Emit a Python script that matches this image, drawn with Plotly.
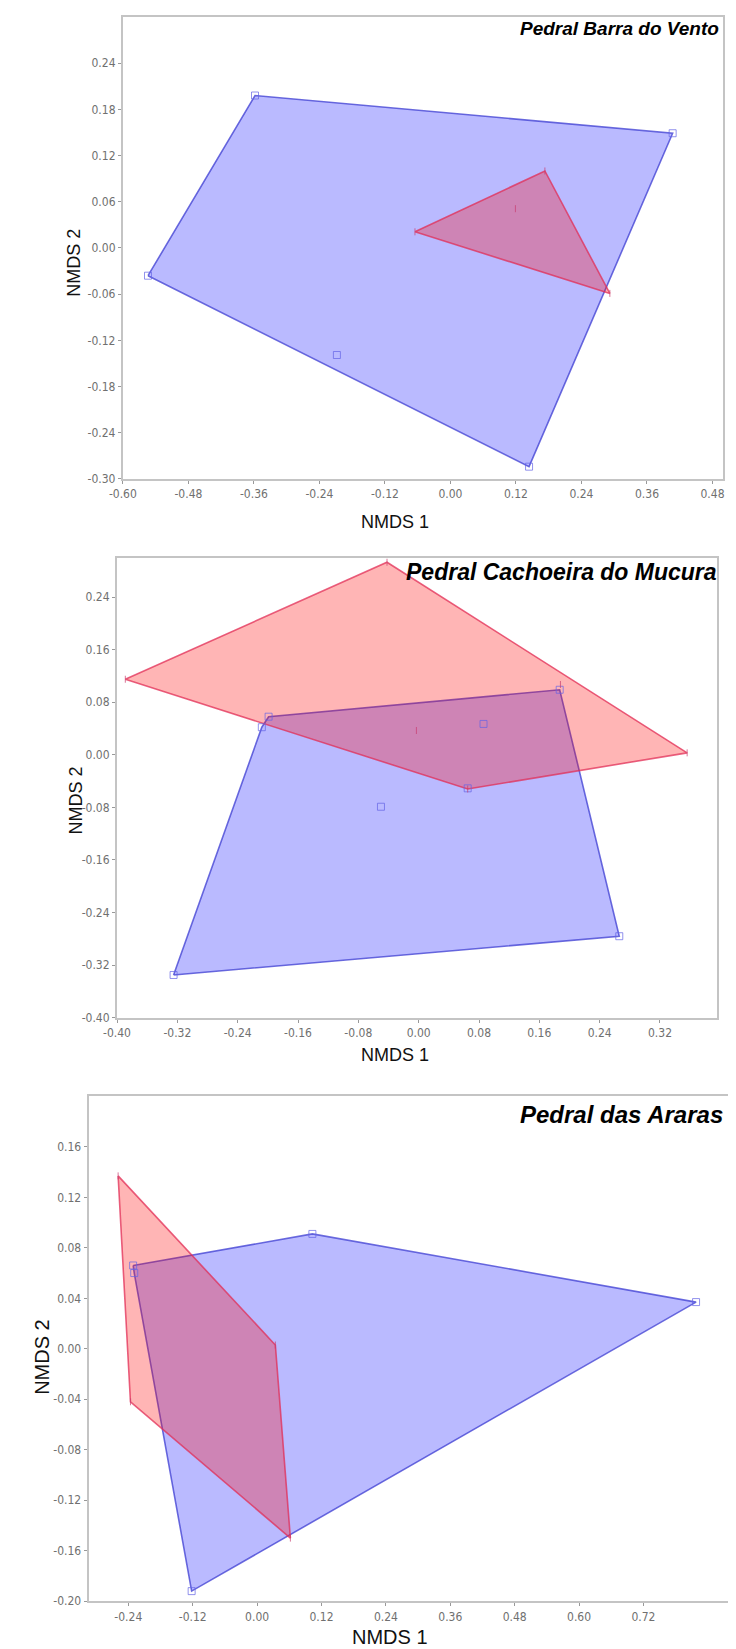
import plotly.graph_objects as go

# ---------------- DATA ----------------
# Panel 1 - Pedral Barra do Vento
p1_title = "Pedral Barra do Vento"
p1_blue_x = [-0.358, 0.407, 0.144, -0.554, -0.208]
p1_blue_y = [0.198, 0.149, -0.284, -0.036, -0.139]
p1_red_x = [-0.065, 0.173, 0.292, 0.119]
p1_red_y = [0.021, 0.100, -0.059, 0.051]
p1_xtickvals = [-0.60, -0.48, -0.36, -0.24, -0.12, 0.00, 0.12, 0.24, 0.36, 0.48]
p1_xticktext = ["-0.60", "-0.48", "-0.36", "-0.24", "-0.12", "0.00", "0.12", "0.24", "0.36", "0.48"]
p1_ytickvals = [-0.30, -0.24, -0.18, -0.12, -0.06, 0.00, 0.06, 0.12, 0.18, 0.24]
p1_yticktext = ["-0.30", "-0.24", "-0.18", "-0.12", "-0.06", "0.00", "0.06", "0.12", "0.18", "0.24"]
p1_xrange = [-0.60, 0.50]
p1_yrange = [-0.30, 0.30]

# Panel 2 - Pedral Cachoeira do Mucura
p2_title = "Pedral Cachoeira do Mucura"
p2_blue_x = [-0.199, -0.208, 0.187, 0.266, -0.325, 0.086, -0.050, 0.065]
p2_blue_y = [0.058, 0.042, 0.099, -0.276, -0.335, 0.047, -0.079, -0.051]
p2_red_x = [-0.042, 0.356, 0.065, -0.389, -0.003, 0.188]
p2_red_y = [0.293, 0.003, -0.052, 0.115, 0.037, 0.107]
p2_xtickvals = [-0.40, -0.32, -0.24, -0.16, -0.08, 0.00, 0.08, 0.16, 0.24, 0.32]
p2_xticktext = ["-0.40", "-0.32", "-0.24", "-0.16", "-0.08", "0.00", "0.08", "0.16", "0.24", "0.32"]
p2_ytickvals = [-0.40, -0.32, -0.24, -0.16, -0.08, 0.00, 0.08, 0.16, 0.24]
p2_yticktext = ["-0.40", "-0.32", "-0.24", "-0.16", "-0.08", "0.00", "0.08", "0.16", "0.24"]
p2_xrange = [-0.40, 0.395]
p2_yrange = [-0.40, 0.30]

# Panel 3 - Pedral das Araras
p3_title = "Pedral das Araras"
p3_blue_x = [-0.229, -0.231, 0.103, 0.818, -0.122]
p3_blue_y = [0.060, 0.066, 0.091, 0.037, -0.192]
p3_red_x = [-0.259, 0.034, 0.062, -0.236]
p3_red_y = [0.137, 0.003, -0.150, -0.042]
p3_xtickvals = [-0.24, -0.12, 0.00, 0.12, 0.24, 0.36, 0.48, 0.60, 0.72]
p3_xticktext = ["-0.24", "-0.12", "0.00", "0.12", "0.24", "0.36", "0.48", "0.60", "0.72"]
p3_ytickvals = [-0.20, -0.16, -0.12, -0.08, -0.04, 0.00, 0.04, 0.08, 0.12, 0.16]
p3_yticktext = ["-0.20", "-0.16", "-0.12", "-0.08", "-0.04", "0.00", "0.04", "0.08", "0.12", "0.16"]
p3_xrange = [-0.314, 0.90]
p3_yrange = [-0.20, 0.20]

x_title = "NMDS 1"
y_title = "NMDS 2"

# ---------------- HELPERS ----------------
W, H = 736, 1649


def hull(xs, ys):
    pts = sorted(set(zip(xs, ys)))
    if len(pts) < 3:
        return pts

    def cross(o, a, b):
        return (a[0] - o[0]) * (b[1] - o[1]) - (a[1] - o[1]) * (b[0] - o[0])

    lower, upper = [], []
    for p in pts:
        while len(lower) >= 2 and cross(lower[-2], lower[-1], p) <= 0:
            lower.pop()
        lower.append(p)
    for p in reversed(pts):
        while len(upper) >= 2 and cross(upper[-2], upper[-1], p) <= 0:
            upper.pop()
        upper.append(p)
    h = lower[:-1] + upper[:-1]
    return h + [h[0]]


BLUE_FILL = "rgba(0,0,255,0.27)"
BLUE_LINE = "rgba(60,60,210,0.75)"
RED_FILL = "rgba(255,0,0,0.29)"
RED_LINE = "rgba(225,45,85,0.75)"

TICK_FONT = dict(family="Liberation Sans Narrow, DejaVu Sans Condensed, Arial Narrow, sans-serif",
                 size=12, color="#707070")

fig = go.Figure()

# tpos: (x, y, anchor) pixel position of the panel title
panels = [
    dict(n=1, box=(103, 9, 716, 473), bx=p1_blue_x, by=p1_blue_y, rx=p1_red_x, ry=p1_red_y,
         xt=(p1_xtickvals, p1_xticktext), yt=(p1_ytickvals, p1_yticktext),
         xr=p1_xrange, yr=p1_yrange, title=p1_title, tsize=19, tpos=(714, 21, "right"),
         xtpos=(381, 516), ytpos=(53, 256), asize=18),
    dict(n=2, box=(97, 552, 709, 1014), bx=p2_blue_x, by=p2_blue_y, rx=p2_red_x, ry=p2_red_y,
         xt=(p2_xtickvals, p2_xticktext), yt=(p2_ytickvals, p2_yticktext),
         xr=p2_xrange, yr=p2_yrange, title=p2_title, tsize=23, tpos=(711, 566, "right"),
         xtpos=(381, 1051), ytpos=(55, 796), asize=18),
    dict(n=3, box=(68, 1093, 733, 1600), bx=p3_blue_x, by=p3_blue_y, rx=p3_red_x, ry=p3_red_y,
         xt=(p3_xtickvals, p3_xticktext), yt=(p3_ytickvals, p3_yticktext),
         xr=p3_xrange, yr=p3_yrange, title=p3_title, tsize=24, tpos=(506, 1111, "left"),
         xtpos=(376, 1636), ytpos=(21, 1355), asize=20),
]

annotations = []
for p in panels:
    n = p["n"]
    xa = "x" if n == 1 else f"x{n}"
    ya = "y" if n == 1 else f"y{n}"
    bh = hull(p["bx"], p["by"])
    rh = hull(p["rx"], p["ry"])
    fig.add_trace(go.Scatter(x=[q[0] for q in bh], y=[q[1] for q in bh], mode="lines",
                             fill="toself", fillcolor=BLUE_FILL,
                             line=dict(color=BLUE_LINE, width=1.6),
                             xaxis=xa, yaxis=ya, showlegend=False, hoverinfo="skip"))
    fig.add_trace(go.Scatter(x=[q[0] for q in rh], y=[q[1] for q in rh], mode="lines",
                             fill="toself", fillcolor=RED_FILL,
                             line=dict(color=RED_LINE, width=1.6),
                             xaxis=xa, yaxis=ya, showlegend=False, hoverinfo="skip"))
    fig.add_trace(go.Scatter(x=p["bx"], y=p["by"], mode="markers",
                             marker=dict(symbol="square-open", size=7,
                                         color="rgba(100,100,230,0.7)", line=dict(width=1)),
                             xaxis=xa, yaxis=ya, showlegend=False))
    fig.add_trace(go.Scatter(x=p["rx"], y=p["ry"], mode="markers",
                             marker=dict(symbol="line-ns-open", size=5,
                                         color="rgba(200,60,110,0.7)", line=dict(width=1,
                                         color="rgba(200,60,110,0.7)")),
                             xaxis=xa, yaxis=ya, showlegend=False))

    x0, y0, x1, y1 = p["box"]
    common = dict(showgrid=False, zeroline=False, showline=True, mirror=True,
                  linecolor="#c4c4c4", linewidth=2, ticks="outside", ticklen=3,
                  tickcolor="#999", tickwidth=1, tickfont=TICK_FONT)
    fig.update_layout(**{
        ("xaxis" if n == 1 else f"xaxis{n}"): dict(
            domain=[x0 / W, x1 / W], anchor=ya, range=p["xr"],
            tickvals=p["xt"][0], ticktext=p["xt"][1], **common),
        ("yaxis" if n == 1 else f"yaxis{n}"): dict(
            domain=[1 - y1 / H, 1 - y0 / H], anchor=xa, range=p["yr"],
            tickvals=p["yt"][0], ticktext=p["yt"][1], **common),
    })

    annotations.append(dict(text=f"<b><i>{p['title']}</i></b>", xref="paper", yref="paper",
                            x=p["tpos"][0] / W, y=1 - p["tpos"][1] / H,
                            xanchor=p["tpos"][2], yanchor="middle", showarrow=False,
                            font=dict(family="Liberation Sans, Arial, sans-serif",
                                      size=p["tsize"], color="#000")))
    annotations.append(dict(text=x_title, xref="paper", yref="paper",
                            x=p["xtpos"][0] / W, y=1 - p["xtpos"][1] / H,
                            xanchor="center", yanchor="middle", showarrow=False,
                            font=dict(family="Liberation Sans, Arial, sans-serif",
                                      size=p["asize"], color="#111")))
    annotations.append(dict(text=y_title, xref="paper", yref="paper",
                            x=p["ytpos"][0] / W, y=1 - p["ytpos"][1] / H,
                            xanchor="center", yanchor="middle", showarrow=False, textangle=-90,
                            font=dict(family="Liberation Sans, Arial, sans-serif",
                                      size=p["asize"], color="#111")))

fig.update_layout(width=W, height=H, margin=dict(l=0, r=0, t=0, b=0),
                  paper_bgcolor="white", plot_bgcolor="white",
                  annotations=annotations, showlegend=False)

fig.write_html("out.html")
